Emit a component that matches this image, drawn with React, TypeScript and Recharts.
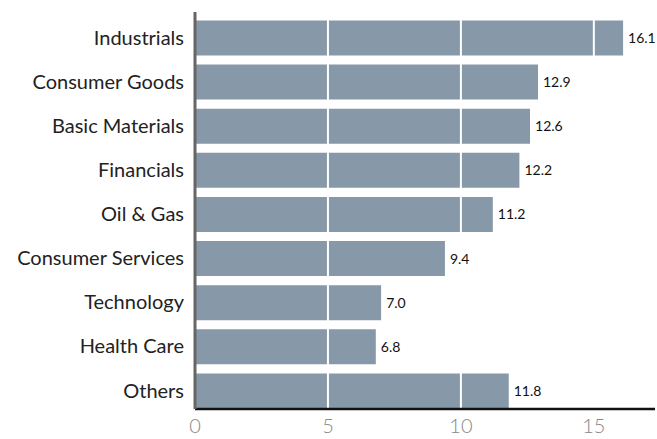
import { BarChart, Bar, XAxis, YAxis, ReferenceLine, LabelList } from 'recharts'

const sectors = [
  'Industrials',
  'Consumer Goods',
  'Basic Materials',
  'Financials',
  'Oil & Gas',
  'Consumer Services',
  'Technology',
  'Health Care',
  'Others',
]
const weights = [16.1, 12.9, 12.6, 12.2, 11.2, 9.4, 7.0, 6.8, 11.8]
const xTicks = [0, 5, 10, 15]
const gridLines = [5, 10, 15]

const data = sectors.map((name, i) => ({ name, value: weights[i] }))

const FONT = 'Lato, "Open Sans", sans-serif'

export default function App() {
  return (
    <div style={{ position: 'fixed', top: 0, left: 0, width: 657, height: 439, background: '#fff' }}>
      <BarChart
        width={657}
        height={439}
        data={data}
        layout="vertical"
        margin={{ top: 12, right: 2, bottom: 0, left: 0 }}
      >
        <XAxis
          type="number"
          domain={[0, 17.3]}
          ticks={xTicks}
          allowDataOverflow
          tickLine={false}
          axisLine={{ stroke: '#111', strokeWidth: 2.5 }}
          height={30}
          tick={{ fontSize: 20, fill: '#888', fontFamily: FONT, fontWeight: 300 }}
          tickMargin={4}
        />
        <YAxis
          type="category"
          dataKey="name"
          width={195}
          padding={{ top: 3.5, bottom: -3.5 }}
          tickLine={false}
          axisLine={{ stroke: '#666', strokeWidth: 3 }}
          tick={{ fontSize: 20, fill: '#222', fontFamily: FONT }}
          tickMargin={5}
        />
        <Bar dataKey="value" fill="#8799A8" barSize={35} isAnimationActive={false}>
          <LabelList
            dataKey="value"
            position="right"
            offset={5}
            formatter={(v: number) => v.toFixed(1)}
            style={{ fontSize: 14, fill: '#111', fontFamily: FONT }}
          />
        </Bar>
        {gridLines.map(x => (
          <ReferenceLine key={x} x={x} stroke="#fff" strokeWidth={2} />
        ))}
      </BarChart>
    </div>
  )
}
